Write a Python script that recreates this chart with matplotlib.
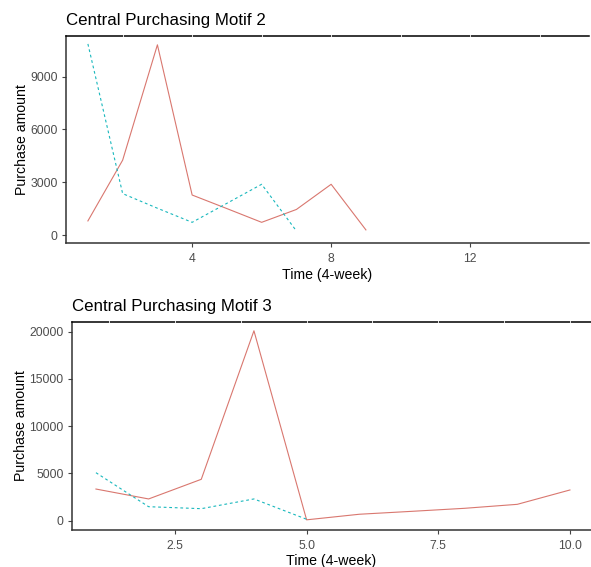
import matplotlib
matplotlib.use("Agg")
import matplotlib.pyplot as plt
import numpy as np

plt.rcParams['font.family'] = ['Liberation Sans', 'DejaVu Sans']

# === Motif 2 data ===
m2_time_red = [1, 2, 3, 4, 5, 6, 7, 8, 9]
m2_amount_red = [800, 4250, 10800, 2270, 1500, 720, 1450, 2880, 290]
m2_time_blue = [1, 2, 3, 4, 5, 6, 7]
m2_amount_blue = [10850, 2350, 1520, 720, 1800, 2880, 230]

# === Motif 3 data ===
m3_time_red = [1, 2, 3, 4, 5, 6, 7, 8, 9, 10]
m3_amount_red = [3350, 2300, 4380, 20100, 90, 680, 990, 1310, 1730, 3250]
m3_time_blue = [1, 2, 3, 4, 5]
m3_amount_blue = [5080, 1480, 1270, 2300, 150]

red = '#d9776f'
blue = '#19b8bd'


def style_panel(ax, title, xticks, xticklabels, yticks, ytickslabels, minor_x):
    ax.spines['right'].set_visible(False)
    ax.spines['top'].set_color('black')
    ax.spines['top'].set_linewidth(1.1)
    for side in ['left', 'bottom']:
        ax.spines[side].set_color('#333333')
        ax.spines[side].set_linewidth(1.1)
    ax.set_xticks(xticks)
    ax.set_xticklabels(xticklabels)
    ax.set_yticks(yticks)
    ax.set_yticklabels(ytickslabels)
    ax.tick_params(axis='both', colors='#444444', labelcolor='#4d4d4d',
                   labelsize=8.8, length=3, width=0.8, direction='out', pad=3)
    ax.tick_params(axis='x', pad=4)
    ax.set_xlabel("Time (4-week)", fontsize=10.2, color='black', labelpad=2)
    ax.set_ylabel("Purchase amount", fontsize=10.2, color='black', labelpad=1)
    ax.set_title(title, fontsize=12.2, loc='left', pad=8, color='black')
    # white grid breaks visible only on the top border
    for x in minor_x:
        ax.axvline(x, ymin=0.99, ymax=1.01, color='white', lw=0.6,
                   clip_on=False, zorder=5)


fig = plt.figure(figsize=(5.91, 5.67), dpi=100)

# === Top panel ===
ax1 = fig.add_axes([0.1117, 0.5714, 0.8849, 0.3651])
ax1.plot(m2_time_red, m2_amount_red, color=red, lw=0.8)
ax1.plot(m2_time_blue, m2_amount_blue, color=blue, lw=0.8, dashes=(2.5, 2.5))
ax1.set_xlim(0.37, 15.42)
ax1.set_ylim(-455, 11300)
style_panel(ax1, "Central Purchasing Motif 2",
            [4, 8, 12], ['4', '8', '12'],
            [0, 3000, 6000, 9000], ['0', '3000', '6000', '9000'],
            np.arange(2, 15, 2))

# === Bottom panel ===
ax2 = fig.add_axes([0.1218, 0.0653, 0.8782, 0.3668])
ax2.plot(m3_time_red, m3_amount_red, color=red, lw=0.8)
ax2.plot(m3_time_blue, m3_amount_blue, color=blue, lw=0.8, dashes=(2.5, 2.5))
ax2.set_xlim(0.545, 10.40)
ax2.set_ylim(-984, 21030)
style_panel(ax2, "Central Purchasing Motif 3",
            [2.5, 5.0, 7.5, 10.0], ['2.5', '5.0', '7.5', '10.0'],
            [0, 5000, 10000, 15000, 20000],
            ['0', '5000', '10000', '15000', '20000'],
            np.arange(1.25, 10.4, 1.25))

fig.savefig("out.png", dpi=100)
